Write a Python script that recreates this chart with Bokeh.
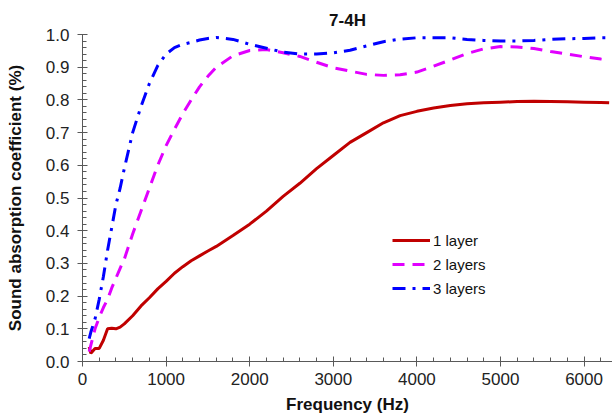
from bokeh.plotting import figure
from bokeh.models import SingleIntervalTicker, PrintfTickFormatter, Legend, LegendItem, Range1d
from bokeh.embed import file_html
from bokeh.resources import INLINE

freq = [80, 100, 150, 200, 250, 300, 350, 400, 450, 500, 600, 700, 800, 900, 1000,
        1100, 1200, 1300, 1400, 1500, 1600, 1800, 2000, 2200, 2400, 2600, 2800, 3000,
        3200, 3400, 3600, 3800, 4000, 4200, 4400, 4600, 4800, 5000, 5200, 5400, 5600,
        5800, 6000, 6200, 6300]

layer1 = [0.045, 0.025, 0.04, 0.04, 0.065, 0.10, 0.102, 0.10, 0.105, 0.115, 0.14, 0.17,
          0.195, 0.222, 0.245, 0.27, 0.29, 0.308, 0.323, 0.338, 0.352, 0.385, 0.42, 0.46,
          0.505, 0.545, 0.59, 0.63, 0.67, 0.70, 0.73, 0.752, 0.765, 0.775, 0.783, 0.788,
          0.791, 0.793, 0.795, 0.796, 0.795, 0.794, 0.793, 0.792, 0.791]

layer2 = [0.03, 0.05, 0.10, 0.135, 0.165, 0.19, 0.225, 0.255, 0.285, 0.313, 0.39, 0.46,
          0.53, 0.60, 0.66, 0.71, 0.758, 0.80, 0.84, 0.872, 0.90, 0.935, 0.951, 0.954,
          0.944, 0.933, 0.915, 0.898, 0.888, 0.878, 0.875, 0.877, 0.885, 0.903, 0.922,
          0.942, 0.956, 0.963, 0.962, 0.957, 0.948, 0.94, 0.932, 0.925, 0.922]

layer3 = [0.07, 0.09, 0.13, 0.19, 0.26, 0.34, 0.41, 0.48, 0.53, 0.59, 0.70, 0.78, 0.85,
          0.905, 0.94, 0.96, 0.97, 0.976, 0.983, 0.988, 0.991, 0.985, 0.97, 0.958, 0.946,
          0.94, 0.94, 0.944, 0.952, 0.965, 0.978, 0.986, 0.99, 0.99, 0.99, 0.985, 0.982,
          0.98, 0.98, 0.982, 0.985, 0.987, 0.988, 0.99, 0.99]

labels = ["1 layer", "2 layers", "3 layers"]
FONT = "Liberation Sans"

p = figure(output_backend="svg", toolbar_location=None,
           frame_width=530, frame_height=327,
           x_range=Range1d(0, 6340), y_range=Range1d(0, 1.0),
           min_border_left=82, min_border_right=0, min_border_top=34, min_border_bottom=40,
           title="7-4H")
p.outline_line_color = None
p.grid.grid_line_color = None
p.background_fill_color = "white"
p.border_fill_color = "white"

p.title.align = "center"
p.title.text_font = FONT
p.title.text_font_size = "17px"
p.title.text_font_style = "bold"
p.title.text_color = "#111111"

r1 = p.line(freq, layer1, line_color="#C00000", line_width=3)
r2 = p.line(freq, layer2, line_color="#E100FF", line_width=3, line_dash="12 8")
r3 = p.line(freq, layer3, line_color="#0000FF", line_width=3, line_dash="13 7 3 7")

p.xaxis.ticker = SingleIntervalTicker(interval=1000, num_minor_ticks=5)
p.yaxis.ticker = SingleIntervalTicker(interval=0.1, num_minor_ticks=5)
p.yaxis.formatter = PrintfTickFormatter(format="%.1f")
p.xaxis.formatter = PrintfTickFormatter(format="%d")

for ax in (p.xaxis[0], p.yaxis[0]):
    ax.axis_line_color = "#595959"
    ax.major_tick_line_color = "#595959"
    ax.minor_tick_line_color = "#595959"
    ax.major_tick_in = 5
    ax.major_tick_out = 5
    ax.minor_tick_in = 4
    ax.minor_tick_out = 0
    ax.major_label_text_font = FONT
    ax.major_label_text_font_size = "17px"
    ax.major_label_text_color = "#222222"
    ax.axis_label_text_font = FONT
    ax.axis_label_text_font_size = "17px"
    ax.axis_label_text_font_style = "bold"
    ax.axis_label_text_color = "#111111"

p.xaxis.axis_label = "Frequency (Hz)"
p.yaxis.axis_label = "Sound absorption coefficient (%)"
p.xaxis.major_label_standoff = 6
p.yaxis.major_label_standoff = 8
p.xaxis.axis_label_standoff = 7
p.yaxis.axis_label_standoff = 18

legend = Legend(items=[LegendItem(label=labels[0], renderers=[r1]),
                       LegendItem(label=labels[1], renderers=[r2]),
                       LegendItem(label=labels[2], renderers=[r3])],
                location=(310, 61))
legend.border_line_color = None
legend.background_fill_alpha = 0
legend.padding = 0
legend.margin = 0
legend.spacing = 0
legend.glyph_width = 38
legend.glyph_height = 24
legend.label_height = 24
legend.label_standoff = 3
legend.label_text_font = FONT
legend.label_text_font_size = "15px"
legend.label_text_color = "#111111"
p.add_layout(legend)

open("out.html", "w").write(file_html(p, INLINE))
